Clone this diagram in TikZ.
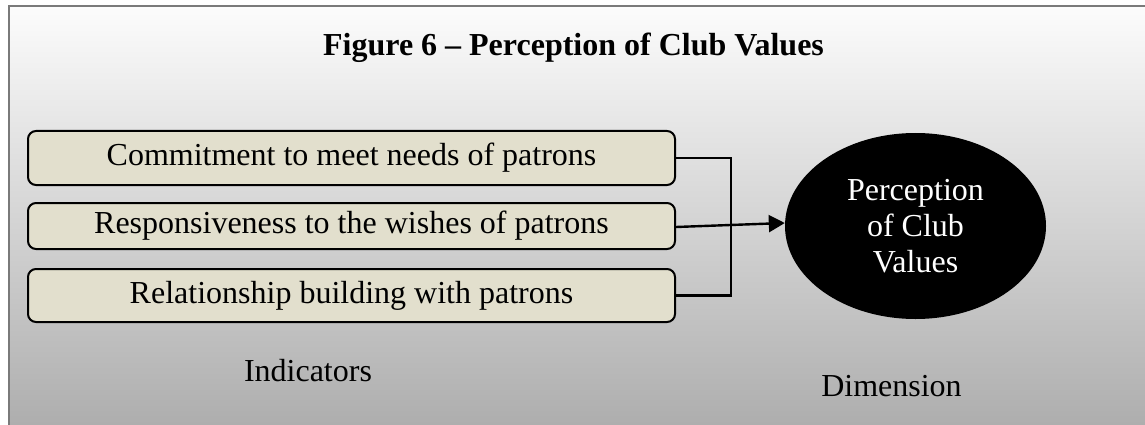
\documentclass[tikz,border=0pt]{standalone}
\usepackage{fontspec}
\setmainfont{Liberation Serif}
\usetikzlibrary{shapes.geometric,arrows.meta,calc}

\definecolor{boxfill}{RGB}{226,223,205}
\definecolor{framegray}{RGB}{122,122,122}
\definecolor{bgtop}{RGB}{252,252,252}
\definecolor{bgbottom}{RGB}{171,171,171}

\tikzset{
  bigtext/.style={font=\fontsize{32}{37}\selectfont},
  indicator/.style={bigtext, draw=black, line width=2pt, fill=boxfill,
    rounded corners=8pt, minimum width=647pt, inner sep=0pt},
  dimension/.style={bigtext, ellipse, fill=black, text=white, align=center,
    minimum width=261pt, minimum height=186pt, inner sep=0pt},
  link/.style={line width=2.4pt, draw=black},
  caption/.style={bigtext}
}

\begin{document}
\begin{tikzpicture}[x=1pt,y=-1pt]
  \useasboundingbox (0,0) rectangle (1145,425);
  \clip (0,0) rectangle (1145,425);

  % shaded panel with its frame
  \fill[top color=bgtop, bottom color=bgbottom] (9,6) rectangle (1160,440);
  \draw[framegray, line width=2.6pt] (1160,6) -- (9,6) -- (9,440);

  % title
  \node[bigtext, font=\fontsize{32}{37}\selectfont\bfseries] (title) at (573.5,47.5)
    {Figure 6 – Perception of Club Values};

  % indicator boxes
  \node[indicator, minimum height=54pt] (b1) at (351.5,158)
    {Commitment to meet needs of patrons};
  \node[indicator, minimum height=46pt] (b2) at (351.5,226)
    {Responsiveness to the wishes of patrons};
  \node[indicator, minimum height=53pt] (b3) at (351.5,295.5)
    {Relationship building with patrons};

  % dimension ellipse
  \node[dimension] (dim) at (915.5,226)
    {Perception\\[-1pt]of Club\\[-1pt]Values};

  % connectors
  \draw[link] (b1.east) -- ++(55,0) |- (b3.east);
  \draw[link, -{Triangle[length=16pt,width=17pt]}]
    ($(b2.east)+(0,1)$) -- ($(dim.west)+(0,-3)$);

  % captions
  \node[caption] (ind) at (308,371) {Indicators};
  \node[caption] (dimlabel) at (891.5,386) {Dimension};
\end{tikzpicture}
\end{document}
